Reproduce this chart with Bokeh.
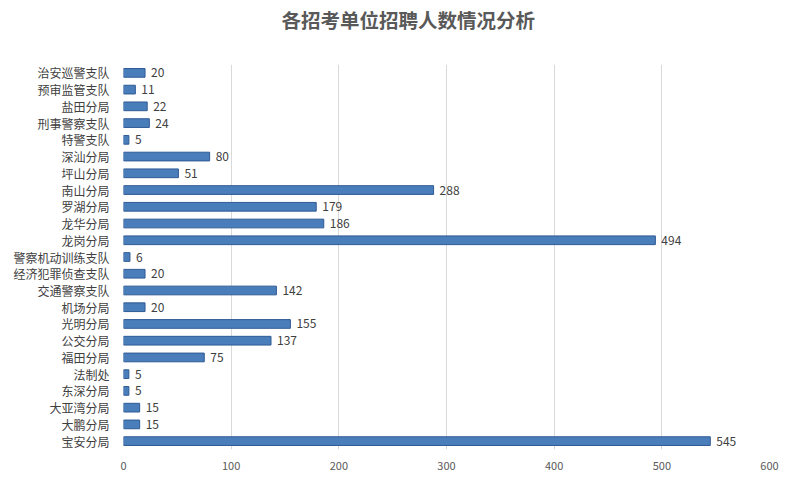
from bokeh.plotting import figure
from bokeh.models import ColumnDataSource, FactorRange, Range1d, FixedTicker, LabelSet
from bokeh.embed import file_html
from bokeh.resources import INLINE
from bokeh.core.properties import value

# categories top-to-bottom as shown
units = ["治安巡警支队", "预审监管支队", "盐田分局", "刑事警察支队", "特警支队", "深汕分局",
         "坪山分局", "南山分局", "罗湖分局", "龙华分局", "龙岗分局", "警察机动训练支队",
         "经济犯罪侦查支队", "交通警察支队", "机场分局", "光明分局", "公交分局", "福田分局",
         "法制处", "东深分局", "大亚湾分局", "大鹏分局", "宝安分局"]
counts = [20, 11, 22, 24, 5, 80, 51, 288, 179, 186, 494, 6,
          20, 142, 20, 155, 137, 75, 5, 5, 15, 15, 545]
x_ticks = [0, 100, 200, 300, 400, 500, 600]
title_text = "各招考单位招聘人数情况分析"

FONT = "Noto Sans CJK SC"

src = ColumnDataSource(dict(unit=units, count=counts, label=[str(c) for c in counts]))

p = figure(width=800, height=476, output_backend="svg", toolbar_location=None,
           y_range=FactorRange(factors=units[::-1], range_padding=0.0),
           x_range=Range1d(0, 600),
           min_border_left=123, min_border_right=31, min_border_top=62, min_border_bottom=27)

# trailing blank line lifts the title away from the plot frame
p.title.text = title_text + "\n\u3000"
p.title.align = "left"
p.title.offset = 158
p.title.text_font = FONT
p.title.text_font_size = "19.5px"
p.title.text_font_style = "bold"
p.title.text_color = "#595959"
p.title.standoff = 4

p.hbar(y="unit", right="count", left=0, height=0.52, source=src,
       fill_color="#4a7ebb", line_color="#2e5a94", line_width=1)

labels = LabelSet(x="count", y="unit", text="label", source=src, x_offset=6,
                  text_baseline="middle", text_font=value(FONT), text_font_size="12px",
                  text_color="#404040")
p.add_layout(labels)

p.xaxis.ticker = FixedTicker(ticks=x_ticks)
p.xaxis.axis_line_color = None
p.xaxis.major_tick_line_color = None
p.xaxis.minor_tick_line_color = None
p.xaxis.major_label_text_font = FONT
p.xaxis.major_label_text_font_size = "11px"
p.xaxis.major_label_text_color = "#595959"
p.xaxis.major_label_standoff = 6

p.yaxis.axis_line_color = None
p.yaxis.major_tick_line_color = None
p.yaxis.minor_tick_line_color = None
p.yaxis.major_label_text_font = FONT
p.yaxis.major_label_text_font_size = "12px"
p.yaxis.major_label_text_color = "#404040"
p.yaxis.major_label_standoff = 8

p.ygrid.grid_line_color = None
p.xgrid.grid_line_color = "#d9d9d9"
p.outline_line_color = None

open("out.html", "w").write(file_html(p, INLINE))
